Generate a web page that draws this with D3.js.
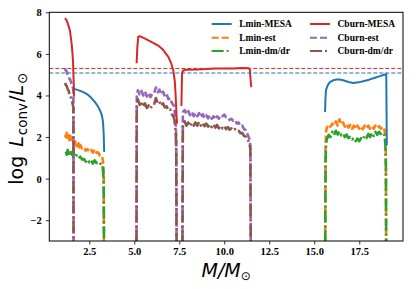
<!DOCTYPE html>
<html>
<head>
<meta charset="utf-8">
<script src="https://cdn.jsdelivr.net/npm/d3@7/dist/d3.min.js"></script>
<style>
  body { margin: 0; background: #fff; }
  .tick text { font-family: "Liberation Serif", "Times New Roman", serif; font-weight: bold; font-size: 10.5px; fill: #000; }
  .lab { font-family: "DejaVu Sans", sans-serif; font-size: 19px; fill: #000; }
  .leg { font-family: "Liberation Serif", serif; font-weight: bold; font-size: 9.5px; fill: #000; }
</style>
</head>
<body>
<svg id="chart" width="416" height="289"></svg>
<script>
// ---- data: [M/Msun, log Lconv/Lsun], null = gap
const lminMesa = [
  [1.61,4.33],[1.8,4.28],[2.0,4.22],[2.17,4.16],[2.4,4.05],[2.6,3.9],[2.75,3.75],[2.9,3.58],
  [3.0,3.45],[3.1,3.28],[3.2,3.05],[3.26,2.75],[3.3,2.2],[3.33,1.28],
  null,
  [15.6,3.2],[15.62,3.8],[15.65,4.25],[15.75,4.5],[15.87,4.64],[16.05,4.73],[16.24,4.77],[16.4,4.77],
  [16.6,4.73],[16.9,4.65],[17.17,4.6],[17.45,4.63],[17.72,4.68],[18.05,4.76],[18.37,4.85],
  [18.65,4.93],[18.93,5.01],[19.0,5.04],[19.03,1.6]
];
const lminEst = [
  [1.15,2.1],[1.2,2.0],[1.25,2.2],[1.3,1.95],[1.35,2.1],[1.4,1.85],[1.45,2.05],[1.5,1.8],[1.55,1.95],
  [1.6,1.85],[1.65,1.75],[1.7,1.85],[1.75,1.6],[1.8,1.75],[1.85,1.55],[1.9,1.7],[1.95,1.5],[2.0,1.62],
  [2.1,1.45],[2.2,1.5],[2.3,1.35],[2.4,1.42],[2.5,1.3],[2.6,1.38],[2.7,1.25],[2.8,1.42],[2.9,1.25],
  [3.0,1.25],[3.1,1.1],[3.2,1.1],[3.25,0.9],[3.3,0.5],[3.32,-5],
  null,
  [15.6,-5],[15.63,1.5],[15.66,2.3],[15.7,2.45],[15.8,2.6],[15.9,2.5],[16.0,2.65],[16.1,2.55],
  [16.2,2.75],[16.3,2.55],[16.4,2.85],[16.5,2.6],[16.6,2.7],[16.7,2.5],[16.8,2.62],[16.9,2.45],
  [17.0,2.58],[17.1,2.4],[17.2,2.55],[17.3,2.38],[17.4,2.55],[17.5,2.4],[17.6,2.52],[17.7,2.38],
  [17.8,2.55],[17.9,2.42],[18.0,2.55],[18.1,2.4],[18.2,2.52],[18.3,2.4],[18.4,2.55],[18.5,2.42],
  [18.6,2.52],[18.7,2.4],[18.8,2.5],[18.9,2.35],[18.95,2.0],[18.98,1.0],[19.0,-5]
];
const lminDmdr = [
  [1.2,1.3],[1.25,1.15],[1.3,1.38],[1.35,1.2],[1.4,1.32],[1.45,1.1],[1.5,1.28],[1.55,1.15],[1.6,1.12],
  [1.65,1.22],[1.7,1.02],[1.8,1.12],[1.9,0.98],[2.0,1.06],[2.1,0.92],[2.2,0.95],[2.3,0.82],[2.4,0.92],
  [2.5,0.78],[2.6,0.88],[2.7,0.72],[2.8,0.88],[2.9,0.75],[3.0,0.82],[3.1,0.72],[3.2,0.72],[3.25,0.5],
  [3.3,0.0],[3.33,-5],
  null,
  [15.6,-5],[15.63,1.0],[15.66,1.7],[15.7,1.9],[15.8,2.1],[15.9,2.0],[16.0,2.25],[16.1,2.1],
  [16.2,2.3],[16.3,2.12],[16.4,2.28],[16.5,2.08],[16.6,2.15],[16.7,2.0],[16.8,2.12],[16.9,1.95],
  [17.0,2.0],[17.1,1.88],[17.2,1.95],[17.3,1.8],[17.4,1.93],[17.5,1.8],[17.6,1.95],[17.7,1.88],
  [17.8,2.05],[17.9,1.95],[18.0,2.15],[18.1,2.0],[18.2,2.2],[18.3,2.05],[18.4,2.25],[18.5,2.1],
  [18.6,2.25],[18.7,2.15],[18.8,2.22],[18.9,2.08],[18.95,1.7],[18.98,0.5],[19.0,-5]
];
const cburnMesa = [
  [1.15,7.72],[1.25,7.6],[1.35,7.35],[1.43,7.1],[1.52,6.5],[1.57,6.0],[1.6,5.6],[1.62,5.0],
  [1.64,4.5],[1.65,3.95],
  null,
  [5.13,5.55],[5.17,6.3],[5.22,6.82],[5.3,6.85],[5.6,6.73],[6.0,6.55],[6.33,6.4],[6.6,6.2],
  [6.9,5.84],[7.05,5.55],[7.17,5.2],[7.25,4.7],[7.3,4.0],[7.35,3.0],[7.38,2.65],
  null,
  [7.62,3.5],[7.64,4.5],[7.66,5.1],[7.72,5.2],[7.85,5.24],[8.5,5.25],[9.0,5.27],[9.5,5.3],
  [10.0,5.3],[10.5,5.3],[11.0,5.32],[11.35,5.31],[11.42,5.26],[11.45,4.9],[11.5,4.4]
];
const cburnEst = [
  [1.15,5.3],[1.2,5.2],[1.25,5.15],[1.3,5.0],[1.35,4.95],[1.4,4.8],[1.45,4.75],[1.5,4.6],
  [1.55,4.5],[1.6,4.35],[1.62,4.2],[1.63,-5],
  null,
  [5.12,-5],[5.14,4.0],[5.2,4.25],[5.3,4.05],[5.4,4.22],[5.5,4.0],[5.6,4.18],[5.7,3.95],[5.8,4.12],
  [5.9,3.92],[6.0,4.08],[6.1,4.1],[6.2,4.38],[6.3,4.15],[6.4,4.28],[6.5,4.05],[6.6,4.18],[6.7,3.95],
  [6.8,4.05],[6.9,3.82],[7.0,3.88],[7.1,3.62],[7.2,3.52],[7.25,3.2],[7.3,2.8],[7.33,2.0],[7.36,-5],
  null,
  [7.67,-5],[7.7,3.2],[7.8,3.3],[7.9,3.1],[8.0,3.25],[8.1,3.05],[8.2,3.2],[8.3,3.0],[8.4,3.15],
  [8.5,3.0],[8.6,3.15],[8.7,2.95],[8.8,3.1],[8.9,2.92],[9.0,3.05],[9.1,2.9],[9.2,3.05],[9.3,2.88],
  [9.4,3.0],[9.5,2.85],[9.6,3.0],[9.7,2.88],[9.8,3.05],[9.9,3.0],[10.0,3.08],[10.1,2.95],
  [10.2,2.95],[10.3,2.82],[10.4,2.88],[10.5,2.78],[10.6,2.82],[10.7,2.65],[10.8,2.7],[10.9,2.52],
  [11.0,2.55],[11.1,2.38],[11.2,2.32],[11.3,2.12],[11.4,1.9],[11.45,1.6],[11.48,-5]
];
const cburnDmdr = [
  [1.15,4.6],[1.2,4.5],[1.25,4.45],[1.3,4.3],[1.35,4.25],[1.4,4.05],[1.45,4.0],[1.5,3.8],
  [1.55,3.7],[1.6,3.5],[1.62,3.4],[1.63,-5],
  null,
  [5.12,-5],[5.14,3.5],[5.2,3.82],[5.3,3.55],[5.4,3.72],[5.5,3.45],[5.6,3.62],[5.7,3.4],[5.8,3.52],
  [5.9,3.38],[6.0,3.52],[6.1,3.55],[6.2,3.88],[6.3,3.65],[6.4,3.72],[6.5,3.5],[6.6,3.62],[6.7,3.42],
  [6.8,3.48],[6.9,3.28],[7.0,3.32],[7.1,3.08],[7.2,2.95],[7.25,2.7],[7.3,2.3],[7.33,1.5],[7.36,-5],
  null,
  [7.67,-5],[7.7,2.6],[7.8,2.75],[7.9,2.55],[8.0,2.7],[8.1,2.52],[8.2,2.68],[8.3,2.55],[8.4,2.7],
  [8.5,2.55],[8.6,2.72],[8.7,2.55],[8.8,2.68],[8.9,2.52],[9.0,2.65],[9.1,2.5],[9.2,2.62],[9.3,2.48],
  [9.4,2.6],[9.5,2.45],[9.6,2.58],[9.7,2.42],[9.8,2.55],[9.9,2.42],[10.0,2.52],[10.1,2.38],
  [10.2,2.48],[10.3,2.35],[10.4,2.42],[10.5,2.32],[10.6,2.38],[10.7,2.28],[10.8,2.3],[10.9,2.18],
  [11.0,2.2],[11.1,2.05],[11.2,2.02],[11.3,1.88],[11.4,1.7],[11.45,1.4],[11.48,-5]
];
const hLines = [{v: 5.3, c: "#d62728"}, {v: 5.08, c: "#1f77b4"}];
const xTicks = [2.5, 5.0, 7.5, 10.0, 12.5, 15.0, 17.5];
const yTicks = [-2, 0, 2, 4, 6, 8];

const series = [
  {name: "Lmin-est",    data: lminEst,   color: "#ff7f0e", dash: "7,3",      w: 2.6},
  {name: "Lmin-dm/dr",  data: lminDmdr,  color: "#2ca02c", dash: "12,3,2,3", w: 2.6},
  {name: "Cburn-est",   data: cburnEst,  color: "#9467bd", dash: "7,3",      w: 2.6},
  {name: "Cburn-dm/dr", data: cburnDmdr, color: "#8c564b", dash: "12,3,2,3", w: 2.6},
  {name: "Lmin-MESA",   data: lminMesa,  color: "#1f77b4", dash: null,       w: 2},
  {name: "Cburn-MESA",  data: cburnMesa, color: "#d62728", dash: null,       w: 2}
];
const legendOrder = ["Lmin-MESA", "Lmin-est", "Lmin-dm/dr", "Cburn-MESA", "Cburn-est", "Cburn-dm/dr"];

const L = 49.3, R = 403, T = 12.3, B = 241;
const svg = d3.select("#chart");

const x = d3.scaleLinear().domain([0.28, 19.93]).range([L, R]);
const y = d3.scaleLinear().domain([-3, 8]).range([B, T]);

svg.append("defs").append("clipPath").attr("id", "clip")
  .append("rect").attr("x", L).attr("y", T).attr("width", R - L).attr("height", B - T);

const plot = svg.append("g").attr("clip-path", "url(#clip)");

// horizontal reference lines
plot.selectAll(".hl").data(hLines).enter().append("line")
  .attr("x1", L).attr("x2", R)
  .attr("y1", d => y(d.v)).attr("y2", d => y(d.v))
  .attr("stroke", d => d.c).attr("stroke-width", 1).attr("stroke-dasharray", "4,2");

const line = d3.line()
  .defined(d => d !== null)
  .x(d => x(d[0]))
  .y(d => y(d[1]));

series.forEach(s => {
  plot.append("path")
    .attr("d", line(s.data))
    .attr("fill", "none")
    .attr("stroke", s.color)
    .attr("stroke-width", s.w)
    .attr("stroke-linejoin", "round")
    .attr("stroke-dasharray", s.dash);
});

// axes
const xAxis = svg.append("g").attr("transform", `translate(0,${B})`)
  .call(d3.axisBottom(x).tickValues(xTicks).tickFormat(d3.format(".1f")).tickSize(3.5).tickPadding(3));
const yAxis = svg.append("g").attr("transform", `translate(${L},0)`)
  .call(d3.axisLeft(y).tickValues(yTicks).tickFormat(d3.format("d")).tickSize(3.5).tickPadding(4));
[xAxis, yAxis].forEach(g => {
  g.select(".domain").remove();
  g.selectAll(".tick line").attr("stroke", "#000").attr("stroke-width", 0.8);
});

svg.append("rect").attr("x", L).attr("y", T).attr("width", R - L).attr("height", B - T)
  .attr("fill", "none").attr("stroke", "#000").attr("stroke-width", 1);

// axis labels
const xl = svg.append("text").attr("class", "lab").attr("x", (L + R) / 2).attr("y", 277)
  .attr("font-size", "17px").attr("text-anchor", "middle");
xl.append("tspan").attr("font-style", "italic").text("M/M");
xl.append("tspan").attr("font-size", "12px").attr("dy", 3).text("⊙");

const yl = svg.append("text").attr("class", "lab")
  .attr("transform", `translate(23,${(T + B) / 2 + 2}) rotate(-90)`)
  .attr("text-anchor", "middle");
yl.append("tspan").text("log");
yl.append("tspan").attr("font-style", "italic").attr("dx", 9).text("L");
yl.append("tspan").attr("font-size", "13.5px").attr("dx", 1).attr("dy", 3.5).text("conv");
yl.append("tspan").attr("dy", -3.5).attr("dx", 1).text("/");
yl.append("tspan").attr("font-style", "italic").text("L");
yl.append("tspan").attr("font-size", "13.5px").attr("dx", 1).attr("dy", 3.5).text("⊙");

// legend
const legX = [211.7, 310], legY = [24, 37.7, 51];
const leg = svg.append("g");
legendOrder.forEach((n, i) => {
  const s = series.find(d => d.name === n);
  const cx = legX[Math.floor(i / 3)], cy = legY[i % 3];
  leg.append("line").attr("x1", cx).attr("x2", cx + 20).attr("y1", cy).attr("y2", cy)
    .attr("stroke", s.color).attr("stroke-width", 2).attr("stroke-dasharray", s.dash);
  leg.append("text").attr("class", "leg").attr("x", cx + 27.5).attr("y", cy + 3.3).text(n);
});
</script>
</body>
</html>
